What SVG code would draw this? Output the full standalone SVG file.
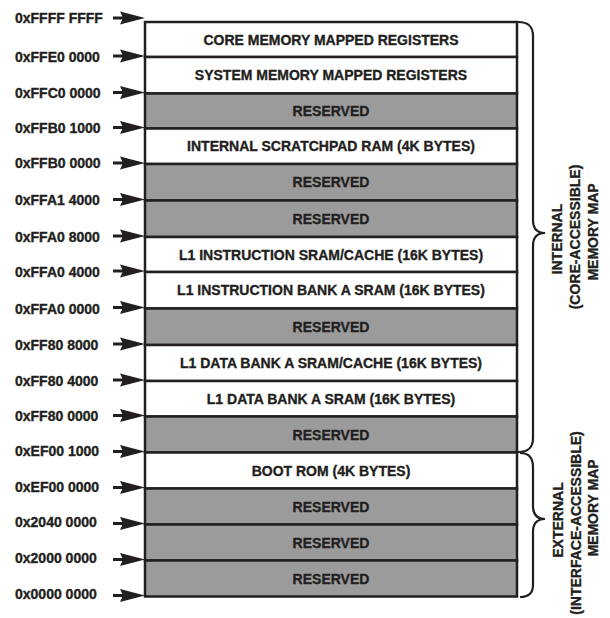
<svg xmlns="http://www.w3.org/2000/svg" width="610" height="618" viewBox="0 0 610 618" font-family="'Liberation Sans', Arial, Helvetica, sans-serif" font-weight="700">
<style>
text{font-family:"Liberation Sans",Arial,Helvetica,sans-serif;font-weight:700;font-size:14px;fill:#231f20;stroke:#231f20;stroke-width:0.35}
.lbl{text-anchor:middle}
.w{fill:#ffffff;stroke:#231f20;stroke-width:2.5}
.g{fill:#9b9b9b;stroke:#231f20;stroke-width:2.5}
.ar{stroke:#231f20;stroke-width:3;fill:none}
.ah{fill:#231f20}
.brace{stroke:#231f20;stroke-width:2.2;fill:none}
.rot{text-anchor:middle}
</style>
<defs>
<g id="arrow">
<line class="ar" x1="113" y1="0" x2="124" y2="0"/>
<path class="ah" d="M120,-6.5 L145,0 L120,6.5 L123,0 Z"/>
</g>
</defs>
<g id="memory-map">
<g id="r0"><rect class="w" x="145" y="22" width="372" height="35"/><text class="lbl" x="331" y="44.5">CORE MEMORY MAPPED REGISTERS</text></g>
<g id="r1"><rect class="w" x="145" y="57" width="372" height="36.5"/><text class="lbl" x="331" y="80">SYSTEM MEMORY MAPPED REGISTERS</text></g>
<g id="r2"><rect class="g" x="145" y="93.5" width="372" height="35"/><text class="lbl" x="331" y="116">RESERVED</text></g>
<g id="r3"><rect class="w" x="145" y="128.5" width="372" height="35.5"/><text class="lbl" x="331" y="151">INTERNAL SCRATCHPAD RAM (4K BYTES)</text></g>
<g id="r4"><rect class="g" x="145" y="164" width="372" height="36.5"/><text class="lbl" x="331" y="187">RESERVED</text></g>
<g id="r5"><rect class="g" x="145" y="200.5" width="372" height="36.5"/><text class="lbl" x="331" y="224">RESERVED</text></g>
<g id="r6"><rect class="w" x="145" y="237" width="372" height="35"/><text class="lbl" x="331" y="259.5">L1 INSTRUCTION SRAM/CACHE (16K BYTES)</text></g>
<g id="r7"><rect class="w" x="145" y="272" width="372" height="36.5"/><text class="lbl" x="331" y="295">L1 INSTRUCTION BANK A SRAM (16K BYTES)</text></g>
<g id="r8"><rect class="g" x="145" y="308.5" width="372" height="36.5"/><text class="lbl" x="331" y="331.5">RESERVED</text></g>
<g id="r9"><rect class="w" x="145" y="345" width="372" height="36"/><text class="lbl" x="331" y="368">L1 DATA BANK A SRAM/CACHE (16K BYTES)</text></g>
<g id="r10"><rect class="w" x="145" y="381" width="372" height="35.5"/><text class="lbl" x="331" y="404">L1 DATA BANK A SRAM (16K BYTES)</text></g>
<g id="r11"><rect class="g" x="145" y="416.5" width="372" height="36"/><text class="lbl" x="331" y="439.5">RESERVED</text></g>
<g id="r12"><rect class="w" x="145" y="452.5" width="372" height="36"/><text class="lbl" x="331" y="475.5">BOOT ROM (4K BYTES)</text></g>
<g id="r13"><rect class="g" x="145" y="488.5" width="372" height="36"/><text class="lbl" x="331" y="511.5">RESERVED</text></g>
<g id="r14"><rect class="g" x="145" y="524.5" width="372" height="36"/><text class="lbl" x="331" y="547.5">RESERVED</text></g>
<g id="r15"><rect class="g" x="145" y="560.5" width="372" height="36"/><text class="lbl" x="331" y="583.5">RESERVED</text></g>
</g>
<g id="addresses">
<text x="15" y="23">0xFFFF FFFF</text>
<text x="15" y="62">0xFFE0 0000</text>
<text x="15" y="98">0xFFC0 0000</text>
<text x="15" y="133">0xFFB0 1000</text>
<text x="15" y="168">0xFFB0 0000</text>
<text x="15" y="205">0xFFA1 4000</text>
<text x="15" y="242">0xFFA0 8000</text>
<text x="15" y="277">0xFFA0 4000</text>
<text x="15" y="314">0xFFA0 0000</text>
<text x="15" y="350">0xFF80 8000</text>
<text x="15" y="386">0xFF80 4000</text>
<text x="15" y="421">0xFF80 0000</text>
<text x="15" y="456">0xEF00 1000</text>
<text x="15" y="492">0xEF00 0000</text>
<text x="15" y="527">0x2040 0000</text>
<text x="15" y="563">0x2000 0000</text>
<text x="15" y="599">0x0000 0000</text>
</g>
<g id="connectors">
<use href="#arrow" y="18"/>
<use href="#arrow" y="56"/>
<use href="#arrow" y="92.5"/>
<use href="#arrow" y="127.5"/>
<use href="#arrow" y="163"/>
<use href="#arrow" y="199.5"/>
<use href="#arrow" y="236"/>
<use href="#arrow" y="271"/>
<use href="#arrow" y="307.5"/>
<use href="#arrow" y="344"/>
<use href="#arrow" y="380"/>
<use href="#arrow" y="415.5"/>
<use href="#arrow" y="451.5"/>
<use href="#arrow" y="487.5"/>
<use href="#arrow" y="523.5"/>
<use href="#arrow" y="559.5"/>
<use href="#arrow" y="595.5"/>
</g>
<g id="internal-brace">
<path class="brace" d="M518,22 C528,22 533,26 533,36 L533,220 C533,228 537,233 545,233 C537,233 533,238 533,246 L533,438 C533,448 528,452 518,452"/>
<text class="rot" transform="translate(562,239) rotate(-90)">INTERNAL</text>
<text class="rot" transform="translate(580,237) rotate(-90)">(CORE-ACCESSIBLE)</text>
<text class="rot" transform="translate(598,232) rotate(-90)">MEMORY MAP</text>
</g>
<g id="external-brace">
<path class="brace" d="M520,453 C528,453 533,457 533,467 L533,506 C533,514 537,519 545,519 C537,519 533,524 533,532 L533,585 C533,593 528,597 520,597"/>
<text class="rot" transform="translate(563,520) rotate(-90)">EXTERNAL</text>
<text class="rot" transform="translate(581,523) rotate(-90)">(INTERFACE-ACCESSIBLE)</text>
<text class="rot" transform="translate(598,508) rotate(-90)">MEMORY MAP</text>
</g>
</svg>
